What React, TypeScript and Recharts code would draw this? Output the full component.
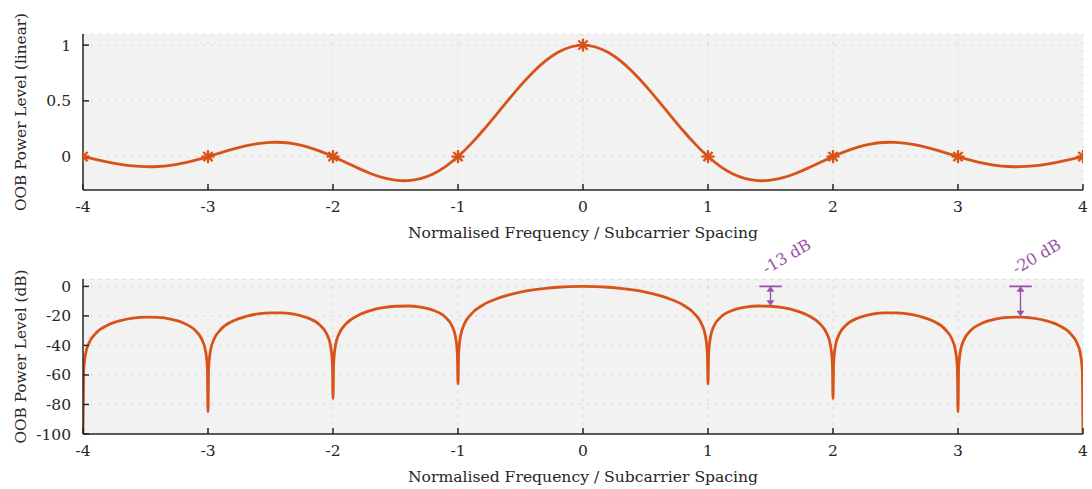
import { LineChart, Line, XAxis, YAxis, CartesianGrid, ReferenceLine, ReferenceDot } from 'recharts';

// normalised frequency grid for the linear plot
const freqLin = [
  -4, -3.9, -3.8, -3.7, -3.6, -3.5, -3.4, -3.3, -3.2, -3.1,
  -3, -2.9, -2.8, -2.7, -2.6, -2.5, -2.4, -2.3, -2.2, -2.1,
  -2, -1.9, -1.8, -1.7, -1.6, -1.5, -1.4, -1.3, -1.2, -1.1,
  -1, -0.9, -0.8, -0.7, -0.6, -0.5, -0.4, -0.3, -0.2, -0.1,
  0, 0.1, 0.2, 0.3, 0.4, 0.5, 0.6, 0.7, 0.8, 0.9,
  1, 1.1, 1.2, 1.3, 1.4, 1.5, 1.6, 1.7, 1.8, 1.9,
  2, 2.1, 2.2, 2.3, 2.4, 2.5, 2.6, 2.7, 2.8, 2.9,
  3, 3.1, 3.2, 3.3, 3.4, 3.5, 3.6, 3.7, 3.8, 3.9,
  4,
];

const powerLin = [
  0, -0.0252, -0.0492, -0.0696, -0.0841, -0.0909, -0.089, -0.078, -0.0585, -0.0317,
  0, 0.0339, 0.0668, 0.0954, 0.1164, 0.1273, 0.1261, 0.112, 0.085, 0.0468,
  0, -0.0518, -0.1039, -0.1515, -0.1892, -0.2122, -0.2162, -0.1981, -0.1559, -0.0894,
  0, 0.1093, 0.2339, 0.3679, 0.5046, 0.6366, 0.7568, 0.8584, 0.9355, 0.9836,
  1, 0.9836, 0.9355, 0.8584, 0.7568, 0.6366, 0.5046, 0.3679, 0.2339, 0.1093,
  0, -0.0894, -0.1559, -0.1981, -0.2162, -0.2122, -0.1892, -0.1515, -0.1039, -0.0518,
  0, 0.0468, 0.085, 0.112, 0.1261, 0.1273, 0.1164, 0.0954, 0.0668, 0.0339,
  0, -0.0317, -0.0585, -0.078, -0.089, -0.0909, -0.0841, -0.0696, -0.0492, -0.0252,
  0,
];

// denser grid for the dB plot (extra points around the nulls)
const freqDb = [
  -4, -3.995, -3.98, -3.95, -3.9, -3.8, -3.7, -3.6, -3.5, -3.4, -3.3, -3.2, -3.1, -3.05, -3.02, -3.005,
  -3, -2.995, -2.98, -2.95, -2.9, -2.8, -2.7, -2.6, -2.5, -2.4, -2.3, -2.2, -2.1, -2.05, -2.02, -2.005,
  -2, -1.995, -1.98, -1.95, -1.9, -1.8, -1.7, -1.6, -1.5, -1.4, -1.3, -1.2, -1.1, -1.05, -1.02, -1.005,
  -1, -0.995, -0.98, -0.95, -0.9, -0.8, -0.7, -0.6, -0.5, -0.4, -0.3, -0.2, -0.1,
  0, 0.1, 0.2, 0.3, 0.4, 0.5, 0.6, 0.7, 0.8, 0.9, 0.95, 0.98, 0.995,
  1, 1.005, 1.02, 1.05, 1.1, 1.2, 1.3, 1.4, 1.5, 1.6, 1.7, 1.8, 1.9, 1.95, 1.98, 1.995,
  2, 2.005, 2.02, 2.05, 2.1, 2.2, 2.3, 2.4, 2.5, 2.6, 2.7, 2.8, 2.9, 2.95, 2.98, 2.995,
  3, 3.005, 3.02, 3.05, 3.1, 3.2, 3.3, 3.4, 3.5, 3.6, 3.7, 3.8, 3.9, 3.95, 3.98, 3.995,
  4,
];

const powerDb = [
  -100, -58.05, -45.98, -37.99, -31.97, -26.15, -23.15, -21.51, -20.82, -21.01, -22.15, -24.66, -29.97, -35.74, -43.59, -55.58,
  -85, -55.55, -43.47, -35.45, -29.39, -23.5, -20.41, -18.68, -17.9, -17.98, -19.02, -21.41, -26.59, -32.29, -40.09, -52.06,
  -76, -52.02, -39.92, -31.86, -25.72, -19.66, -16.39, -14.46, -13.46, -13.3, -14.06, -16.14, -20.97, -26.48, -34.16, -46.06,
  -66, -45.98, -33.81, -25.61, -19.23, -12.62, -8.69, -5.94, -3.92, -2.42, -1.33, -0.58, -0.14,
  0, -0.14, -0.58, -1.33, -2.42, -3.92, -5.94, -8.69, -12.62, -19.23, -25.61, -33.81, -45.98,
  -66, -46.06, -34.16, -26.48, -20.97, -16.14, -14.06, -13.3, -13.46, -14.46, -16.39, -19.66, -25.72, -31.86, -39.92, -52.02,
  -76, -52.06, -40.09, -32.29, -26.59, -21.41, -19.02, -17.98, -17.9, -18.68, -20.41, -23.5, -29.39, -35.45, -43.47, -55.55,
  -85, -55.58, -43.59, -35.74, -29.97, -24.66, -22.15, -21.01, -20.82, -21.51, -23.15, -26.15, -31.97, -37.99, -45.98, -58.05,
  -100,
];

const freqTicks = [-4, -3, -2, -1, 0, 1, 2, 3, 4];
const linTicks = [0, 0.5, 1];
const dbTicks = [-100, -80, -60, -40, -20, 0];

// side-lobe annotations: where, and how far down
const lobeMarks = [
  { f: 1.5, drop: -13, text: '-13 dB' },
  { f: 3.5, drop: -20, text: '-20 dB' },
];

const linData = freqLin.map((f, i) => ({ f, p: powerLin[i] }));
const dbData = freqDb.map((f, i) => ({ f, p: powerDb[i] }));

const LINE = '#D95319';
const AXIS = '#262626';
const NOTE = '#9A52A8';
const FONT = '"DejaVu Serif", serif';
const TICK = { fill: AXIS, fontSize: 15.5, fontFamily: FONT };

function Asterisk(props: any) {
  const { cx, cy, payload, index } = props;
  if (!Number.isInteger(payload.f)) return <g key={index} />;
  const r = 6.5;
  const d = 4.6;
  return (
    <g key={index} stroke={LINE} strokeWidth={2.3}>
      <line x1={cx - r} y1={cy} x2={cx + r} y2={cy} />
      <line x1={cx} y1={cy - r} x2={cx} y2={cy + r} />
      <line x1={cx - d} y1={cy - d} x2={cx + d} y2={cy + d} />
      <line x1={cx - d} y1={cy + d} x2={cx + d} y2={cy - d} />
    </g>
  );
}

function DoubleArrow(props: any) {
  const { x1, y1, x2, y2 } = props;
  const h = 5;
  const w = 3.5;
  return (
    <g stroke={NOTE} fill={NOTE} strokeWidth={1.4}>
      <line x1={x1} y1={y1 + 2} x2={x2} y2={y2 - 2} />
      <path d={`M${x1},${y1} L${x1 - w},${y1 + h} L${x1 + w},${y1 + h} Z`} strokeWidth={0.5} />
      <path d={`M${x2},${y2} L${x2 - w},${y2 - h} L${x2 + w},${y2 - h} Z`} strokeWidth={0.5} />
    </g>
  );
}

function yTitle(title: string) {
  return (p: any) => {
    const vb = p.viewBox;
    return (
      <text
        transform={`translate(25.5,${vb.y + vb.height / 2}) rotate(-90)`}
        textAnchor="middle"
        fill={AXIS}
        fontSize={15.3}
        fontFamily={FONT}
      >
        {title}
      </text>
    );
  };
}

function xTitle(p: any) {
  const vb = p.viewBox;
  return (
    <text x={vb.x + vb.width / 2} y={vb.y + 48} textAnchor="middle" fill={AXIS} fontSize={15.6} fontFamily={FONT}>
      Normalised Frequency / Subcarrier Spacing
    </text>
  );
}

function Axes({ yDomain, yTicks, title }: { yDomain: number[]; yTicks: number[]; title: string }) {
  return [
    <CartesianGrid
      key="grid"
      xAxisId="b"
      yAxisId="l"
      fill="#F2F2F2"
      stroke="#D6D6D6"
      strokeDasharray="2 6"
    />,
    <XAxis
      key="xb"
      xAxisId="b"
      dataKey="f"
      type="number"
      domain={[-4, 4]}
      ticks={freqTicks}
      interval={0}
      allowDataOverflow
      height={55}
      tickSize={-6}
      tickMargin={17}
      axisLine={{ stroke: AXIS, strokeWidth: 1.5 }}
      tickLine={{ stroke: AXIS, strokeWidth: 1.5 }}
      tick={TICK}
      label={{ content: xTitle }}
    />,
    <XAxis
      key="xt"
      xAxisId="t"
      orientation="top"
      dataKey="f"
      type="number"
      domain={[-4, 4]}
      ticks={freqTicks}
      interval={0}
      height={0}
      tickSize={-6}
      axisLine={{ stroke: AXIS, strokeWidth: 1.5 }}
      tickLine={{ stroke: AXIS, strokeWidth: 1.5 }}
      tick={false}
    />,
    <YAxis
      key="yl"
      yAxisId="l"
      type="number"
      domain={yDomain}
      ticks={yTicks}
      interval={0}
      allowDataOverflow
      width={83}
      tickSize={-6}
      tickMargin={18}
      axisLine={{ stroke: AXIS, strokeWidth: 1.5 }}
      tickLine={{ stroke: AXIS, strokeWidth: 1.5 }}
      tick={TICK}
      label={{ content: yTitle(title) }}
    />,
    <YAxis
      key="yr"
      yAxisId="r"
      orientation="right"
      type="number"
      domain={yDomain}
      ticks={yTicks}
      interval={0}
      width={0}
      tickSize={-6}
      axisLine={{ stroke: AXIS, strokeWidth: 1.5 }}
      tickLine={{ stroke: AXIS, strokeWidth: 1.5 }}
      tick={false}
    />,
  ];
}

const MARGIN = { top: 34, right: 9, bottom: 0, left: 0 };

export default function App() {
  return (
    <div style={{ position: 'absolute', left: 0, top: 0, width: 1092, height: 489, background: '#fff' }}>
      <style>{'svg.recharts-surface{overflow:visible}'}</style>
      <LineChart width={1092} height={245} data={linData} margin={MARGIN}>
        {Axes({ yDomain: [-0.3, 1.1], yTicks: linTicks, title: 'OOB Power Level (linear)' })}
        <Line
          xAxisId="b"
          yAxisId="l"
          type="natural"
          dataKey="p"
          stroke={LINE}
          strokeWidth={2.8}
          dot={(p: any) => <Asterisk {...p} />}
          activeDot={false}
          isAnimationActive={false}
        />
      </LineChart>
      <LineChart width={1092} height={244} data={dbData} margin={MARGIN}>
        {Axes({ yDomain: [-100, 5], yTicks: dbTicks, title: 'OOB Power Level (dB)' })}
        <Line
          xAxisId="b"
          yAxisId="l"
          type="monotone"
          dataKey="p"
          stroke={LINE}
          strokeWidth={2.8}
          dot={false}
          activeDot={false}
          isAnimationActive={false}
        />
        {lobeMarks.map((m) => (
          <ReferenceLine
            key={`h${m.f}`}
            xAxisId="b"
            yAxisId="l"
            segment={[{ x: m.f - 0.09, y: 0 }, { x: m.f + 0.09, y: 0 }]}
            stroke={NOTE}
            strokeWidth={1.8}
          />
        ))}
        {lobeMarks.map((m) => (
          <ReferenceLine
            key={`a${m.f}`}
            xAxisId="b"
            yAxisId="l"
            segment={[{ x: m.f, y: 0 }, { x: m.f, y: m.drop }]}
            shape={(p: any) => <DoubleArrow {...p} />}
          />
        ))}
        {lobeMarks.map((m) => (
          <ReferenceDot
            key={`t${m.f}`}
            xAxisId="b"
            yAxisId="l"
            x={m.f}
            y={0}
            r={0}
            shape={(p: any) => (
              <text
                transform={`translate(${p.cx - 4},${p.cy - 12}) rotate(-30)`}
                fill={NOTE}
                fontSize={16}
                fontFamily={FONT}
              >
                {m.text}
              </text>
            )}
          />
        ))}
      </LineChart>
    </div>
  );
}
